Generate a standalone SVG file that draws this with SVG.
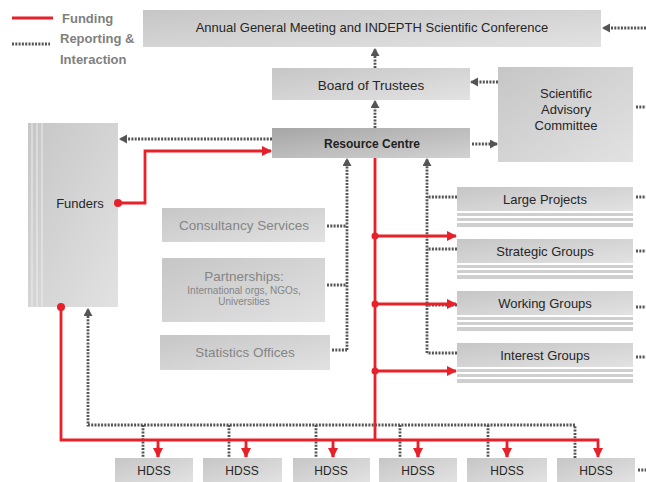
<svg xmlns="http://www.w3.org/2000/svg" width="646" height="482" viewBox="0 0 646 482">
<defs>
<linearGradient id="g" x1="0" y1="0" x2="1" y2="1">
<stop offset="0" stop-color="#c6c6c6"/><stop offset="1" stop-color="#e2e2e2"/>
</linearGradient>
<linearGradient id="gd" x1="0" y1="0" x2="1" y2="1">
<stop offset="0" stop-color="#a6a6a6"/><stop offset="1" stop-color="#d2d2d2"/>
</linearGradient>
<marker id="ad" markerUnits="userSpaceOnUse" markerWidth="10" markerHeight="10" refX="7" refY="4.5" orient="auto">
<path d="M0,0 L8,4.5 L0,9 Z" fill="#555"/>
</marker>
<marker id="ar" markerUnits="userSpaceOnUse" markerWidth="12" markerHeight="12" refX="9" refY="5" orient="auto">
<path d="M0,0 L10,5 L0,10 Z" fill="#e8202a"/>
</marker>
<style>
.box{fill:url(#g)}
.t{font-family:"Liberation Sans",Arial,sans-serif;font-size:13px;fill:#262626;text-anchor:middle}
.tg{font-family:"Liberation Sans",Arial,sans-serif;font-size:13px;fill:#858585;text-anchor:middle}
.dot{fill:none;stroke:#555;stroke-width:2.8;stroke-dasharray:2 1.3}
.red{fill:none;stroke:#e8202a;stroke-width:2.8}
.rd{fill:#e8202a}
.stripe{fill:#cfcfcf}
.leg{font-family:"Liberation Sans",Arial,sans-serif;font-size:13px;font-weight:bold;fill:#7f7f7f}
</style>
</defs>
<rect width="646" height="482" fill="#fff"/>

<g id="legend">
<line x1="12" y1="18" x2="53" y2="18" class="red"/>
<text x="62" y="23" class="leg">Funding</text>
<line x1="12" y1="44" x2="50" y2="44" class="dot"/>
<text x="60" y="43" class="leg">Reporting &amp;</text>
<text x="60" y="64" class="leg">Interaction</text>
</g>

<g id="agm"><rect x="143" y="10" width="458" height="37" class="box"/>
<text x="372" y="32" class="t" font-size="12.5">Annual General Meeting and INDEPTH Scientific Conference</text></g>
<g id="board"><rect x="272" y="68" width="198" height="32" class="box"/>
<text x="371" y="90" class="t" style="font-size:13.5px">Board of Trustees</text></g>
<g id="sac"><rect x="498" y="67" width="135" height="95" class="box"/>
<text x="566" y="98" class="t">Scientific</text>
<text x="566" y="114" class="t">Advisory</text>
<text x="566" y="130" class="t">Committee</text></g>
<g id="rc"><rect x="272" y="128" width="198" height="30" fill="url(#gd)"/>
<text x="372" y="148" class="t" style="font-size:12px;font-weight:bold;fill:#222">Resource Centre</text></g>
<g id="funders"><rect x="28" y="123" width="90" height="184" class="box"/>
<line x1="32" y1="123" x2="32" y2="307" stroke="#eee" stroke-width="1"/>
<line x1="37" y1="123" x2="37" y2="307" stroke="#eee" stroke-width="1"/>
<line x1="42" y1="123" x2="42" y2="307" stroke="#eee" stroke-width="1"/>
<text x="80" y="208" class="t">Funders</text></g>
<g id="consultancy"><rect x="162" y="208" width="163" height="34" class="box"/>
<text x="244" y="230" class="tg" style="font-size:13.5px">Consultancy Services</text></g>
<g id="partnerships"><rect x="162" y="258" width="163" height="64" class="box"/>
<text x="244" y="281" class="tg" style="font-size:13.5px">Partnerships:</text>
<text x="244" y="294" class="tg" style="font-size:10px">International orgs, NGOs,</text>
<text x="244" y="305" class="tg" style="font-size:10px">Universities</text></g>
<g id="stats"><rect x="160" y="335" width="170" height="35" class="box"/>
<text x="245" y="357" class="tg" style="font-size:13.5px">Statistics Offices</text></g>

<g id="large"><rect x="457" y="187" width="176" height="24" class="box"/>
<rect x="457" y="213" width="176" height="3" class="stripe"/><rect x="457" y="218" width="176" height="3" class="stripe"/><rect x="457" y="223" width="176" height="4" class="stripe"/>
<text x="545" y="204" class="t">Large Projects</text></g>
<g id="strategic"><rect x="457" y="239" width="176" height="24" class="box"/>
<rect x="457" y="265" width="176" height="3" class="stripe"/><rect x="457" y="270" width="176" height="3" class="stripe"/><rect x="457" y="275" width="176" height="4" class="stripe"/>
<text x="545" y="256" class="t">Strategic Groups</text></g>
<g id="working"><rect x="457" y="291" width="176" height="24" class="box"/>
<rect x="457" y="317" width="176" height="3" class="stripe"/><rect x="457" y="322" width="176" height="3" class="stripe"/><rect x="457" y="327" width="176" height="4" class="stripe"/>
<text x="545" y="308" class="t">Working Groups</text></g>
<g id="interest"><rect x="457" y="343" width="176" height="24" class="box"/>
<rect x="457" y="369" width="176" height="3" class="stripe"/><rect x="457" y="374" width="176" height="3" class="stripe"/><rect x="457" y="379" width="176" height="4" class="stripe"/>
<text x="545" y="360" class="t">Interest Groups</text></g>

<g id="hdss1"><rect x="115" y="458" width="78" height="24" class="box"/><text x="154" y="475" class="t" style="font-size:12px">HDSS</text></g>
<g id="hdss2"><rect x="203" y="458" width="79" height="24" class="box"/><text x="242" y="475" class="t" style="font-size:12px">HDSS</text></g>
<g id="hdss3"><rect x="293" y="458" width="77" height="24" class="box"/><text x="331" y="475" class="t" style="font-size:12px">HDSS</text></g>
<g id="hdss4"><rect x="379" y="458" width="78" height="24" class="box"/><text x="418" y="475" class="t" style="font-size:12px">HDSS</text></g>
<g id="hdss5"><rect x="467" y="458" width="80" height="24" class="box"/><text x="507" y="475" class="t" style="font-size:12px">HDSS</text></g>
<g id="hdss6"><rect x="557" y="458" width="78" height="24" class="box"/><text x="596" y="475" class="t" style="font-size:12px">HDSS</text></g>

<g id="connectors">
<path d="M646,28 H603" class="dot" marker-end="url(#ad)"/>
<path d="M375,68 V49" class="dot" marker-end="url(#ad)"/>
<path d="M375,128 V101" class="dot" marker-end="url(#ad)"/>
<path d="M498,82 H471" class="dot" marker-end="url(#ad)"/>
<path d="M472,144 H497" class="dot" marker-end="url(#ad)"/>
<path d="M272,139 H120" class="dot" marker-end="url(#ad)"/>
<path d="M327,226 H347 M327,285 H347 M332,350 H347" class="dot"/>
<path d="M347,350 V159" class="dot" marker-end="url(#ad)"/>
<path d="M457,197 H427 M457,249 H427 M457,305 H427 M457,353 H427" class="dot"/>
<path d="M427,353 V159" class="dot" marker-end="url(#ad)"/>
<path d="M636,107 H646 M636,197 H646 M636,251 H646 M636,307 H646 M636,357 H646 M638,470 H646" class="dot"/>
<path d="M575,458 V425 H88 V309" class="dot" marker-end="url(#ad)"/>
<path d="M143,425 V458 M229,425 V458 M316,425 V458 M400,425 V458 M488,425 V458" class="dot"/>

<path d="M118,203 H145 V151 H271" class="red" marker-end="url(#ar)"/>
<circle cx="118" cy="203" r="4" class="rd"/>
<path d="M61,307 V440 H598 V457" class="red" marker-end="url(#ar)"/>
<circle cx="61" cy="307" r="4" class="rd"/>
<path d="M158,440 V457 M246,440 V457 M333,440 V457 M418,440 V457 M507,440 V457" class="red"/>
<path d="M158,447 V457" class="red" marker-end="url(#ar)"/>
<path d="M246,447 V457" class="red" marker-end="url(#ar)"/>
<path d="M333,447 V457" class="red" marker-end="url(#ar)"/>
<path d="M418,447 V457" class="red" marker-end="url(#ar)"/>
<path d="M507,447 V457" class="red" marker-end="url(#ar)"/>
<path d="M375,158 V440" class="red"/>
<path d="M375,236 H456" class="red" marker-end="url(#ar)"/>
<path d="M375,304 H456" class="red" marker-end="url(#ar)"/>
<path d="M375,371 H456" class="red" marker-end="url(#ar)"/>
<circle cx="375" cy="236" r="3.5" class="rd"/>
<circle cx="375" cy="304" r="3.5" class="rd"/>
<circle cx="375" cy="371" r="3.5" class="rd"/>
</g>
</svg>
